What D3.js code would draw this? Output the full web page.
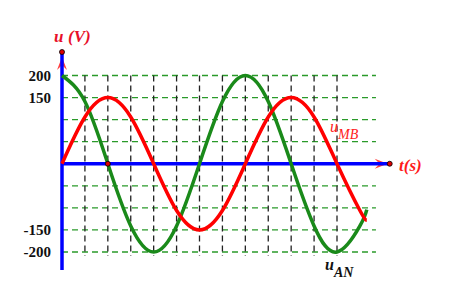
<!DOCTYPE html>
<html>
<head>
<meta charset="utf-8">
<script src="https://cdn.jsdelivr.net/npm/d3@7"></script>
<style>
  body { margin: 0; background: #fff; }
  text { font-family: "Liberation Serif", "Times New Roman", serif; }
</style>
</head>
<body>
<div id="chart"></div>
<script>
// time in grid cells (one period = 8 cells)
const cells = [0, 1, 2, 3, 4, 5, 6, 7, 8, 9, 10, 11, 12, 13, 13.3];
const uAN = [200, 141, 0, -141, -200, -141, 0, 141, 200, 141, 0, -141, -200, -141, -104];
const uMB = [0, 106, 150, 106, 0, -106, -150, -106, 0, 106, 150, 106, 0, -106, -128];
const yTicks = [200, 150, -150, -200];
const hGrid = [200, 150, 100, 50, -50, -100, -150, -200];
const vGrid = [1, 2, 3, 4, 5, 6, 7, 8, 9, 10, 11, 12];

const width = 454;
const height = 286;

const svg = d3.select("#chart")
  .append("svg")
  .attr("width", width)
  .attr("height", height);

const x = d3.scaleLinear().domain([0, 12]).range([62, 337]);
const y = d3.scaleLinear().domain([-200, 200]).range([252, 75.5]);

// grid
svg.append("g")
  .selectAll("line")
  .data(hGrid)
  .enter()
  .append("line")
  .attr("x1", x(0))
  .attr("x2", x(13.7))
  .attr("y1", d => y(d))
  .attr("y2", d => y(d))
  .attr("stroke", "#2a9a2a")
  .attr("stroke-width", 1.3)
  .attr("stroke-dasharray", "6,4");

svg.append("g")
  .selectAll("line")
  .data(vGrid)
  .enter()
  .append("line")
  .attr("x1", d => x(d))
  .attr("x2", d => x(d))
  .attr("y1", y(200))
  .attr("y2", y(-200) + 4)
  .attr("stroke", "#222")
  .attr("stroke-width", 1.3)
  .attr("stroke-dasharray", "6,4");

// arrow heads (under the axis lines)
const xe = x(14.3), y0 = y(0), x0 = x(0);
svg.append("path")
  .attr("d", `M${xe - 2},${y0} L${xe - 15},${y0 - 5} L${xe - 10},${y0} L${xe - 15},${y0 + 5} Z`)
  .attr("fill", "#ff4040");
svg.append("path")
  .attr("d", `M${x0},57 L${x0 - 5},70 L${x0},65 L${x0 + 5},70 Z`)
  .attr("fill", "#ff4040");

// axes
svg.append("line")
  .attr("x1", x(0)).attr("x2", xe)
  .attr("y1", y0).attr("y2", y0)
  .attr("stroke", "#0000ff").attr("stroke-width", 3.5);

svg.append("line")
  .attr("x1", x0).attr("x2", x0)
  .attr("y1", 52).attr("y2", 270)
  .attr("stroke", "#0000ff").attr("stroke-width", 3.5);

// curves
const line = (vals) => d3.line()
  .x((d, i) => x(cells[i]))
  .y(d => y(d))
  .curve(d3.curveNatural)(vals);

svg.append("path")
  .attr("d", line(uAN))
  .attr("fill", "none")
  .attr("stroke", "#1a8a1a")
  .attr("stroke-width", 3.5);

svg.append("path")
  .attr("d", line(uMB))
  .attr("fill", "none")
  .attr("stroke", "#ff0000")
  .attr("stroke-width", 3.5);

// dots
[[x0, 52], [xe, y0], [x(2), y0]].forEach(p => {
  svg.append("circle")
    .attr("cx", p[0]).attr("cy", p[1]).attr("r", 2.5)
    .attr("fill", "#dd0000").attr("stroke", "#000").attr("stroke-width", 0.8);
});

// tick labels
svg.append("g")
  .selectAll("text")
  .data(yTicks)
  .enter()
  .append("text")
  .attr("x", 51)
  .attr("y", d => y(d) + 5)
  .attr("text-anchor", "end")
  .attr("font-size", 15)
  .attr("font-weight", "bold")
  .attr("fill", "#111")
  .text(d => d);

// axis titles
svg.append("text")
  .attr("x", 54).attr("y", 42)
  .attr("font-size", 17)
  .attr("font-style", "italic")
  .attr("font-weight", "bold")
  .attr("fill", "#e8102a")
  .text("u");
svg.append("text")
  .attr("x", 68).attr("y", 42)
  .attr("font-size", 17)
  .attr("font-style", "italic")
  .attr("font-weight", "bold")
  .attr("fill", "#e8102a")
  .text("(V)");

svg.append("text")
  .attr("x", 399).attr("y", 171)
  .attr("font-size", 17)
  .attr("font-style", "italic")
  .attr("font-weight", "bold")
  .attr("fill", "#ff1a1a")
  .text("t(s)");

// curve labels
const mb = svg.append("text")
  .attr("x", 330).attr("y", 132)
  .attr("font-size", 16)
  .attr("font-style", "italic")
  .attr("fill", "#ff1a1a");
mb.append("tspan").text("u");
mb.append("tspan").attr("dy", 7).attr("font-size", 14).text("MB");

const an = svg.append("text")
  .attr("x", 325).attr("y", 270)
  .attr("font-size", 16)
  .attr("font-style", "italic")
  .attr("font-weight", "bold")
  .attr("fill", "#111");
an.append("tspan").text("u");
an.append("tspan").attr("dy", 7).attr("font-size", 14).text("AN");
</script>
</body>
</html>
